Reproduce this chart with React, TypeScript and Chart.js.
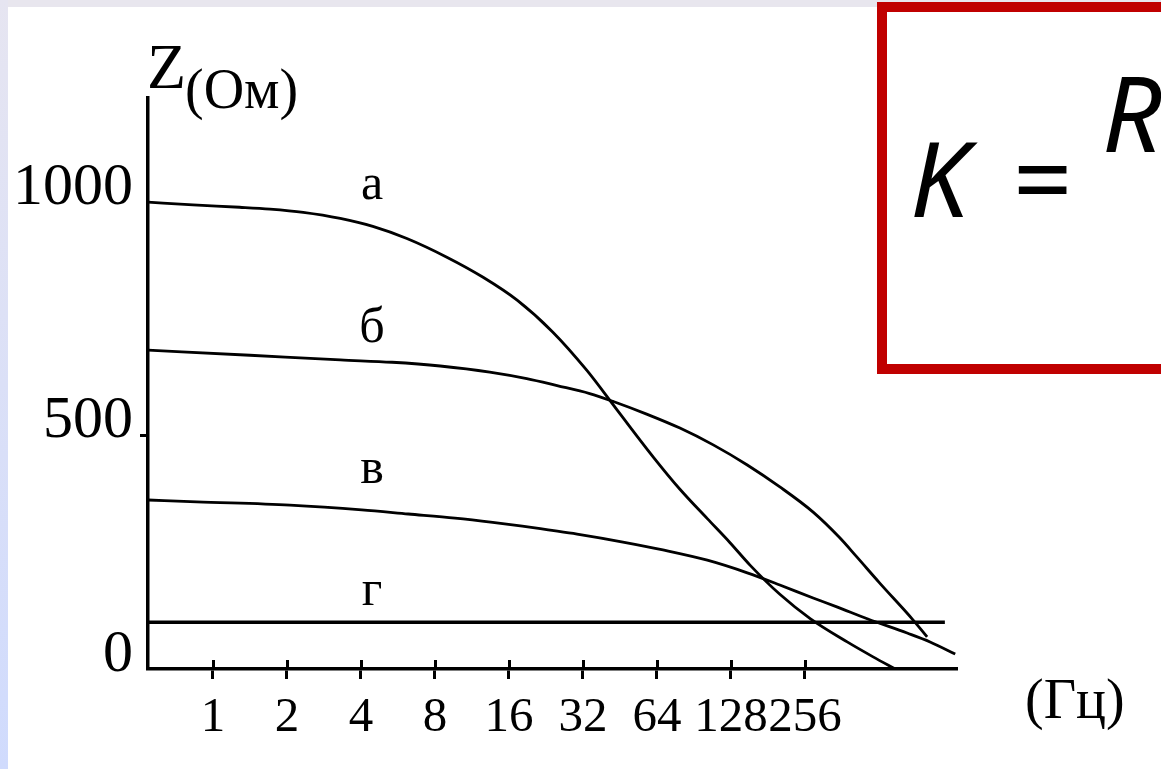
import React, { useEffect, useRef } from "react";
import { Chart, registerables } from "chart.js";

Chart.register(...registerables);

// X axis: frequency (Гц) on an octave scale, position = log2(frequency)
const freqTickLabels = ["1", "2", "4", "8", "16", "32", "64", "128", "256"];
const freqTickOctaves = [0, 1, 2, 3, 4, 5, 6, 7, 8];
// Y axis: impedance Z (Ом)
const zTickValues = [0, 500, 1000];

// Curve а
const curveA_oct = [-0.878, -0.27, 0.36, 0.77, 1.22, 1.72, 2.16, 2.62, 3.16, 3.65, 4.11, 4.59, 5.05, 5.46, 5.95, 6.31, 6.68, 6.99, 7.26, 7.66, 8.07, 8.57, 8.92, 9.22];
const curveA_z = [1000, 994, 989, 985, 978, 965, 948, 922, 882, 839, 790, 722, 640, 555, 454, 385, 322, 270, 222, 160, 108, 58, 26, 0];

// Curve б
const curveB_oct = [-0.878, 0.5, 1.72, 2.42, 3.07, 3.74, 4.24, 4.65, 5.09, 5.41, 5.86, 6.31, 6.76, 7.22, 7.66, 8.11, 8.47, 8.7, 9.01, 9.45, 9.65];
const curveB_z = [683, 672, 662, 657, 649, 636, 622, 607, 590, 573, 546, 516, 480, 437, 390, 336, 281, 240, 184, 107, 69];

// Curve в
const curveV_oct = [-0.878, -0.22, 1.04, 2.01, 2.64, 3.27, 3.78, 4.18, 4.53, 4.92, 5.54, 6.08, 6.68, 7.22, 7.66, 8.11, 8.43, 8.85, 9.38, 9.69, 10.03];
const curveV_z = [362, 358, 351, 341, 332, 323, 314, 306, 298, 289, 272, 255, 233, 206, 180, 152, 133, 107, 77, 58, 32];

// Curve г
const curveG_oct = [-0.878, 9.89];
const curveG_z = [100, 100];

const curveNames = ["а", "б", "в", "г"];
const curveLabelOctave = 2.15;

const zip = (xs: number[], ys: number[]) => xs.map((x, i) => ({ x, y: ys[i] }));

function interpAt(data: { x: number; y: number }[], x: number) {
  for (let i = 0; i < data.length - 1; i++) {
    const a = data[i], b = data[i + 1];
    if (x >= a.x && x <= b.x) {
      const t = (x - a.x) / (b.x - a.x);
      return a.y + t * (b.y - a.y);
    }
  }
  return data[data.length - 1].y;
}

const SERIF = "'Liberation Serif', 'Times New Roman', serif";

const textPlugin = {
  id: "slideText",
  afterDraw(chart: any) {
    const { ctx, chartArea, scales } = chart;
    const xs = scales.x;
    const ys = scales.y;
    ctx.save();
    ctx.fillStyle = "#000";
    ctx.strokeStyle = "#000";
    ctx.lineWidth = 3;
    // upper halves of the x tick marks (they cross the axis)
    xs.ticks.forEach((t: any) => {
      const px = Math.round(xs.getPixelForValue(t.value)) + 0.5;
      ctx.beginPath();
      ctx.moveTo(px, chartArea.bottom);
      ctx.lineTo(px, chartArea.bottom - 9);
      ctx.stroke();
    });
    // curve labels
    ctx.font = `50px ${SERIF}`;
    ctx.textAlign = "center";
    ctx.textBaseline = "alphabetic";
    chart.data.datasets.forEach((ds: any) => {
      const v = interpAt(ds.data, curveLabelOctave);
      ctx.fillText(ds.label, xs.getPixelForValue(curveLabelOctave), ys.getPixelForValue(v) - ds.labelGap);
    });
    // axis titles
    ctx.textAlign = "left";
    ctx.font = `64px ${SERIF}`;
    ctx.fillText("Z", chartArea.left - 1, chartArea.top - 10);
    ctx.font = `56px ${SERIF}`;
    ctx.fillText("(Ом)", chartArea.left + 37, chartArea.top + 10);
    ctx.fillText("(Гц)", chartArea.right + 68, chartArea.bottom + 49);
    ctx.restore();
  },
};

export default function App() {
  const canvasRef = useRef<HTMLCanvasElement | null>(null);

  useEffect(() => {
    const canvas = canvasRef.current;
    if (!canvas) return;
    const lineStyle = {
      borderColor: "#000",
      backgroundColor: "#000",
      pointRadius: 0,
      fill: false,
      cubicInterpolationMode: "monotone" as const,
    };
    const chart = new Chart(canvas, {
      type: "line",
      data: {
        datasets: [
          { ...lineStyle, label: curveNames[0], data: zip(curveA_oct, curveA_z), borderWidth: 2.8, labelGap: 27 } as any,
          { ...lineStyle, label: curveNames[1], data: zip(curveB_oct, curveB_z), borderWidth: 2.8, labelGap: 19 } as any,
          { ...lineStyle, label: curveNames[2], data: zip(curveV_oct, curveV_z), borderWidth: 2.8, labelGap: 28 } as any,
          { ...lineStyle, label: curveNames[3], data: zip(curveG_oct, curveG_z), borderWidth: 3.4, labelGap: 17 } as any,
        ],
      },
      options: {
        animation: false,
        responsive: false,
        devicePixelRatio: 1,
        layout: { padding: { left: 0, top: 98, right: 204, bottom: 0 } },
        plugins: {
          legend: { display: false },
          tooltip: { enabled: false },
          title: { display: false },
        },
        elements: { point: { radius: 0 } },
        scales: {
          x: {
            type: "linear",
            min: -0.878,
            max: 10.054,
            afterBuildTicks: (s: any) => {
              s.ticks = freqTickOctaves.map((v) => ({ value: v }));
            },
            afterFit: (s: any) => {
              s.height = 100;
            },
            ticks: {
              autoSkip: false,
              maxRotation: 0,
              minRotation: 0,
              padding: 10,
              color: "#000",
              font: { family: SERIF, size: 49 },
              callback: (v: any) => freqTickLabels[freqTickOctaves.indexOf(Number(v))],
            },
            grid: {
              drawOnChartArea: false,
              drawTicks: true,
              tickLength: 10,
              tickWidth: 3,
              tickColor: "#000",
            },
            border: { display: true, color: "#000", width: 3.5 },
          },
          y: {
            type: "linear",
            min: 0,
            max: 1223,
            afterBuildTicks: (s: any) => {
              s.ticks = zTickValues.map((v) => ({ value: v }));
            },
            afterFit: (s: any) => {
              s.width = 148;
            },
            ticks: {
              padding: 7,
              labelOffset: -14,
              color: "#000",
              font: { family: SERIF, size: 60 },
              callback: (v: any) => String(v),
            },
            grid: {
              drawOnChartArea: false,
              drawTicks: true,
              tickLength: 8,
              tickWidth: 3,
              tickColor: (c: any) => (c.tick && c.tick.value === 500 ? "#000" : "rgba(0,0,0,0)"),
            },
            border: { display: true, color: "#000", width: 3.5 },
          },
        },
      },
      plugins: [textPlugin],
    });
    return () => chart.destroy();
  }, []);

  return (
    <div
      style={{
        position: "fixed",
        left: 0,
        top: 0,
        width: 1161,
        height: 769,
        overflow: "hidden",
        background: "#ffffff",
      }}
    >
      <div style={{ position: "absolute", left: 0, top: 0, width: 1161, height: 7, background: "#e8e6ee" }} />
      <div
        style={{
          position: "absolute",
          left: 0,
          top: 0,
          width: 8,
          height: 769,
          background: "linear-gradient(#e6e5f1, #d0dbfd)",
        }}
      />
      <canvas ref={canvasRef} width={1161} height={769} style={{ position: "absolute", left: 0, top: 0 }} />
      <svg width={1161} height={769} style={{ position: "absolute", left: 0, top: 0 }}>
        <rect x={882} y={7} width={400} height={362} fill="#ffffff" stroke="#c00000" strokeWidth={10} />
        <text x={910} y={217} fontFamily="'Noto Sans', 'Open Sans', sans-serif" fontStyle="italic" fontSize={104} fill="#000">
          K
        </text>
        <text x={1013} y={217} fontFamily="'Noto Sans', 'Open Sans', sans-serif" fontSize={104} fill="#000">
          =
        </text>
        <text x={1102} y={152} fontFamily="'Noto Sans', 'Open Sans', sans-serif" fontStyle="italic" fontSize={104} fill="#000">
          R
        </text>
      </svg>
    </div>
  );
}
